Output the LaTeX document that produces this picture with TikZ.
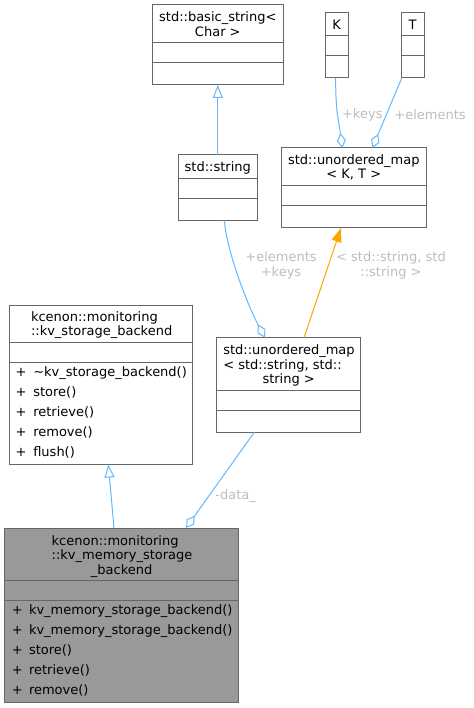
\documentclass[tikz,border=0pt]{standalone}
\usepackage{fontspec}
\setmainfont{DejaVu Sans}
\usetikzlibrary{arrows.meta}
\definecolor{boxc}{HTML}{666666}
\definecolor{edgec}{HTML}{63B8FF}
\definecolor{orangec}{HTML}{FFA500}
\definecolor{labc}{HTML}{BEBEBE}
\definecolor{fillc}{HTML}{999999}
\begin{document}
\begin{tikzpicture}[x=1pt,y=-1pt,
 every node/.style={font=\fontsize{13}{14.3}\selectfont, inner sep=0pt, outer sep=0pt},
 box/.style={draw=boxc, line width=1pt, fill=white, anchor=north west, rectangle},
 sepline/.style={draw=boxc, line width=1pt},
 txt/.style={anchor=base west},
 ctxt/.style={anchor=base},
 lab/.style={text=labc, align=center},
 inh/.style={draw=edgec, line width=1pt, -{Triangle[open,length=13pt,width=10pt,fill=white]}},
 agg/.style={draw=edgec, line width=1pt, -{Diamond[open,length=15pt,width=9pt,fill=white]}},
 tmpl/.style={draw=orangec, line width=1pt, -{Triangle[length=14pt,width=10pt]}},
]
\useasboundingbox[fill=white] (0,0) rectangle (473,708);

% boxes
\node[box, minimum width=131pt, minimum height=80pt] (bs) at (152.3,5) {};
\draw[sepline] ([yshift=-37.7pt]bs.north west) -- ([yshift=-37.7pt]bs.north east);
\draw[sepline] ([yshift=-57.3pt]bs.north west) -- ([yshift=-57.3pt]bs.north east);
\node[ctxt] (bs1) at (217.8,21.4) {std::basic\_string<};
\node[ctxt] (bs2) at (217.8,36.4) {Char >};

\node[box, minimum width=23.3pt, minimum height=65.3pt] (K) at (325,12.7) {};
\draw[sepline] ([yshift=-23pt]K.north west) -- ([yshift=-23pt]K.north east);
\draw[sepline] ([yshift=-43.3pt]K.north west) -- ([yshift=-43.3pt]K.north east);
\node[ctxt] (K1) at (336.7,29.7) {K};

\node[box, minimum width=23pt, minimum height=65.3pt] (T) at (401,12.7) {};
\draw[sepline] ([yshift=-23pt]T.north west) -- ([yshift=-23pt]T.north east);
\draw[sepline] ([yshift=-43.3pt]T.north west) -- ([yshift=-43.3pt]T.north east);
\node[ctxt] (T1) at (412.5,29.4) {T};

\node[box, minimum width=144.3pt, minimum height=80pt] (mkt) at (281.7,148) {};
\draw[sepline] ([yshift=-37.7pt]mkt.north west) -- ([yshift=-37.7pt]mkt.north east);
\draw[sepline] ([yshift=-57.7pt]mkt.north west) -- ([yshift=-57.7pt]mkt.north east);
\node[ctxt] (mkt1) at (353.8,164.7) {std::unordered\_map};
\node[ctxt] (mkt2) at (353.8,179) {< K, T >};

\node[box, minimum width=79pt, minimum height=65.3pt] (str) at (178.3,155) {};
\draw[sepline] ([yshift=-24pt]str.north west) -- ([yshift=-24pt]str.north east);
\draw[sepline] ([yshift=-44pt]str.north west) -- ([yshift=-44pt]str.north east);
\node[ctxt] (str1) at (217.8,171.4) {std::string};

\node[box, minimum width=183.3pt, minimum height=159.5pt] (kvs) at (9,305) {};
\draw[sepline] ([yshift=-37.3pt]kvs.north west) -- ([yshift=-37.3pt]kvs.north east);
\draw[sepline] ([yshift=-57.3pt]kvs.north west) -- ([yshift=-57.3pt]kvs.north east);
\node[txt] (kvs1) at (31,321.4) {kcenon::monitoring};
\node[txt] (kvs2) at (31,335.4) {::kv\_storage\_backend};
\node[txt] (kvsp1) at (15.7,376.4) {+};
\node[txt] (kvsm1) at (33.3,376.4) {\textasciitilde kv\_storage\_backend()};
\node[txt] (kvsp2) at (15.7,396.4) {+};
\node[txt] (kvsm2) at (33.3,396.4) {store()};
\node[txt] (kvsp3) at (15.7,416.4) {+};
\node[txt] (kvsm3) at (33.3,416.4) {retrieve()};
\node[txt] (kvsp4) at (15.7,436.4) {+};
\node[txt] (kvsm4) at (33.3,436.4) {remove()};
\node[txt] (kvsp5) at (15.7,456.4) {+};
\node[txt] (kvsm5) at (33.3,456.4) {flush()};

\node[box, minimum width=144pt, minimum height=94.6pt] (mss) at (216.7,337.7) {};
\draw[sepline] ([yshift=-53pt]mss.north west) -- ([yshift=-53pt]mss.north east);
\draw[sepline] ([yshift=-73pt]mss.north west) -- ([yshift=-73pt]mss.north east);
\node[txt] (mss1) at (223.3,354.7) {std::unordered\_map};
\node[txt] (mss2) at (223.3,369.4) {< std::string, std::};
\node[ctxt] (mss3) at (288.7,383.7) {string >};

\node[box, fill=fillc, minimum width=234pt, minimum height=174.3pt] (kvm) at (4.7,528) {};
\draw[sepline] ([yshift=-52.3pt]kvm.north west) -- ([yshift=-52.3pt]kvm.north east);
\draw[sepline] ([yshift=-72.3pt]kvm.north west) -- ([yshift=-72.3pt]kvm.north east);
\node[txt] (kvm1) at (51.7,545.4) {kcenon::monitoring};
\node[txt] (kvm2) at (51.7,559.7) {::kv\_memory\_storage};
\node[ctxt] (kvm3) at (121.7,574) {\_backend};
\node[txt] (kvmp1) at (12,614) {+};
\node[txt] (kvmm1) at (29,614) {kv\_memory\_storage\_backend()};
\node[txt] (kvmp2) at (12,634) {+};
\node[txt] (kvmm2) at (29,634) {kv\_memory\_storage\_backend()};
\node[txt] (kvmp3) at (12,654) {+};
\node[txt] (kvmm3) at (29,654) {store()};
\node[txt] (kvmp4) at (12,674) {+};
\node[txt] (kvmm4) at (29,674) {retrieve()};
\node[txt] (kvmp5) at (12,694) {+};
\node[txt] (kvmm5) at (29,694) {remove()};

% connectors
\draw[inh] (str.north) -- (bs.south);
\draw[agg] ([xshift=-1pt]K.south) .. controls +(0,35) and +(-4,-30) .. ([xshift=-11.5pt]mkt.north);
\draw[agg] ([xshift=-10.8pt]T.south) -- ([xshift=18.5pt]mkt.north);
\draw[agg] ([xshift=6.5pt]str.south) .. controls +(3,35) and +(-15,-28) .. ([xshift=-23.7pt]mss.north);
\draw[tmpl] ([xshift=15.3pt]mss.north) -- ([xshift=-12.85pt]mkt.south);
\draw[inh] ([xshift=-7.7pt]kvm.north) -- ([xshift=7.65pt]kvs.south);
\draw[agg] ([xshift=-34.4pt]mss.south) -- ([xshift=64.3pt]kvm.north);

% labels
\node[lab] (lk) at (362.3,115) {+keys};
\node[lab] (le) at (430,115) {+elements};
\node[lab] (lek) at (281,265.3) {+elements\\+keys};
\node[lab] (lss) at (391,265.3) {< std::string, std\\::string >};
\node[lab] (ld) at (235.7,496) {-data\_};
\end{tikzpicture}
\end{document}
